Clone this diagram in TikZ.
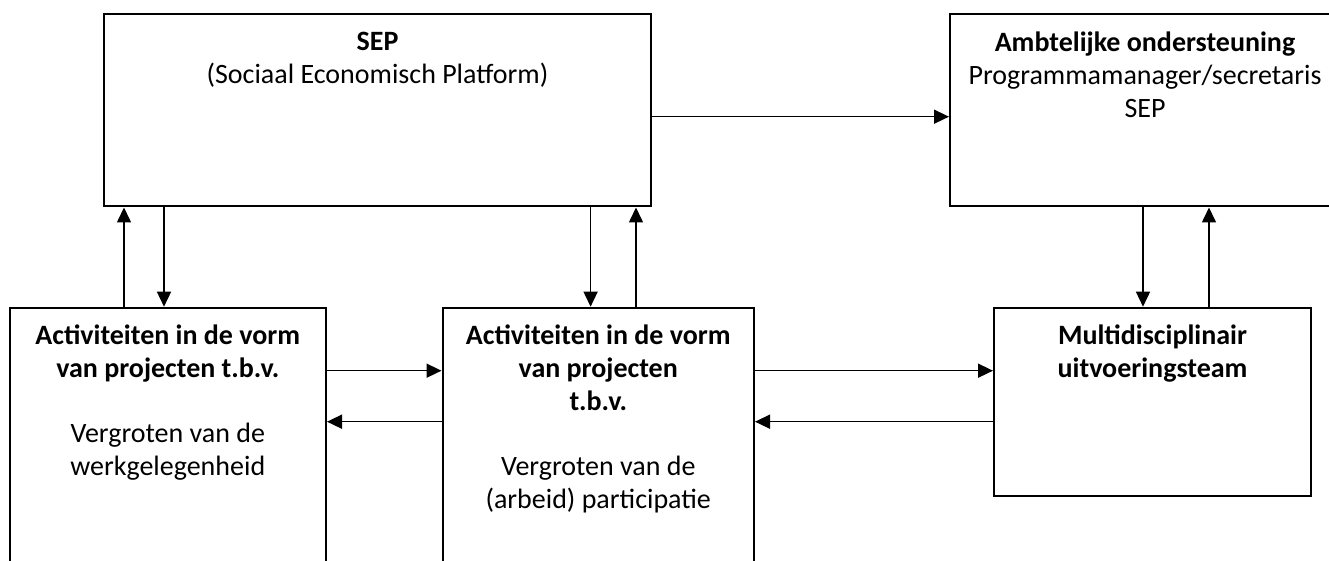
\documentclass[tikz,border=0pt]{standalone}
\usepackage{fontspec}
\setmainfont{Carlito}
\usetikzlibrary{arrows.meta, positioning, fit}

\begin{document}
\begin{tikzpicture}[
    x={(0.5pt,0)}, y={(0,-0.5pt)},
    % Node styles
    blockbox/.style={
        rectangle,
        draw=black,
        line width=1pt,
        inner sep=0pt
    },
    blocktext/.style={
        anchor=north,
        inner sep=0pt,
        font=\fontsize{14pt}{16.5pt}\selectfont,
        align=center,
        yshift=-9pt
    },
    arrow/.style={
        -{Triangle[length=7.5pt, width=7pt]},
        line width=0.8pt,
        black
    }
]
\useasboundingbox (0,0) rectangle (1329,561);
\clip (0,0) rectangle (1329,561);

% === Top row ===
\node[blockbox, fit={(104,14.5) (651,206.5)}] (sep) {};
\node[blocktext] (septext) at (sep.north) {
    \textbf{SEP}\\
    (Sociaal Economisch Platform)
};

\node[blockbox, fit={(950,14.5) (1340,206.5)}] (amb) {};
\node[blocktext] (ambtext) at (amb.north) {
    \textbf{Ambtelijke ondersteuning}\\
    Programmamanager/secretaris\\
    SEP
};

% === Bottom row ===
\node[blockbox, fit={(9.5,307.7) (326,600)}] (werk) {};
\node[blocktext] (werktext) at (werk.north) {
    \textbf{Activiteiten in de vorm}\\
    \textbf{van projecten t.b.v.}\\[16pt]
    Vergroten van de\\
    werkgelegenheid
};

\node[blockbox, fit={(442.5,307.7) (754,600)}] (part) {};
\node[blocktext] (parttext) at (part.north) {
    \textbf{Activiteiten in de vorm}\\
    \textbf{van projecten}\\
    \textbf{t.b.v.}\\[16pt]
    Vergroten van de\\
    (arbeid) participatie
};

\node[blockbox, fit={(994,307.7) (1311,496)}] (team) {};
\node[blocktext] (teamtext) at (team.north) {
    \textbf{Multidisciplinair}\\
    \textbf{uitvoeringsteam}
};

% === Arrows ===
\draw[arrow] (sep.east |- 0,116.7) -- (amb.west |- 0,116.7);

\draw[arrow] (werk.north -| 124,0) -- (sep.south -| 124,0);
\draw[arrow] (sep.south -| 164,0) -- (werk.north -| 164,0);
\draw[arrow] (sep.south -| 590.6,0) -- (part.north -| 590.6,0);
\draw[arrow] (part.north -| 636,0) -- (sep.south -| 636,0);
\draw[arrow] (amb.south -| 1143,0) -- (team.north -| 1143,0);
\draw[arrow] (team.north -| 1209,0) -- (amb.south -| 1209,0);

\draw[arrow] (werk.east |- 0,370.7) -- (part.west |- 0,370.7);
\draw[arrow] (part.west |- 0,421.7) -- (werk.east |- 0,421.7);
\draw[arrow] (part.east |- 0,370.7) -- (team.west |- 0,370.7);
\draw[arrow] (team.west |- 0,421.7) -- (part.east |- 0,421.7);

\end{tikzpicture}
\end{document}
